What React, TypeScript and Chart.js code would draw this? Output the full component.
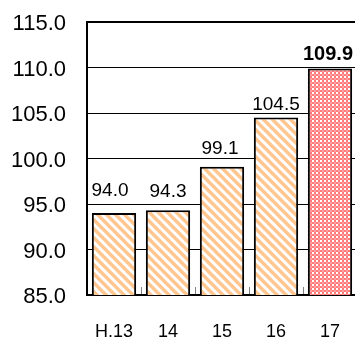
import React, { useEffect, useRef } from "react";
import { Chart, registerables } from "chart.js";

Chart.register(...registerables);

const categories = ["H.13", "14", "15", "16", "17"];
const values = [94.0, 94.3, 99.1, 104.5, 109.9];
const yTickValues = [85, 90, 95, 100, 105, 110, 115];

const FONT = '"Liberation Sans", Arial, sans-serif';

function makeStripe(): CanvasPattern | string {
  const n = 9;
  const c = document.createElement("canvas");
  c.width = n;
  c.height = n;
  const g = c.getContext("2d");
  if (!g) return "#FFCC99";
  g.fillStyle = "#ffffff";
  g.fillRect(0, 0, n, n);
  g.strokeStyle = "#FFC690";
  g.lineWidth = 3.4;
  for (const x of [-2 * n, -n, 0, n, 2 * n]) {
    g.beginPath();
    g.moveTo(x - 2, -2);
    g.lineTo(x + n + 2, n + 2);
    g.stroke();
  }
  return g.createPattern(c, "repeat") || "#FFCC99";
}

function makeChecker(): CanvasPattern | string {
  const c = document.createElement("canvas");
  c.width = 4;
  c.height = 4;
  const g = c.getContext("2d");
  if (!g) return "#FF9999";
  g.fillStyle = "#FF7A7A";
  g.fillRect(0, 0, 4, 4);
  g.fillStyle = "#ffffff";
  g.fillRect(0, 0, 2, 2);
  g.fillStyle = "#FFA0A0";
  g.fillRect(2, 2, 2, 2);
  return g.createPattern(c, "repeat") || "#FF9999";
}

const labelPlugin = {
  id: "valueLabels",
  afterDatasetsDraw(chart: any, _args: any, opts: any) {
    const meta = chart.getDatasetMeta(0);
    const ctx = chart.ctx;
    ctx.save();
    ctx.fillStyle = "#000";
    ctx.textAlign = "center";
    ctx.textBaseline = "alphabetic";
    meta.data.forEach((bar: any, i: number) => {
      const last = i === values.length - 1;
      ctx.font = `${last ? "bold 20px" : "19px"} ${FONT}`;
      const gap = opts.gaps[i] ?? 10;
      const dx = opts.dx[i] ?? 0;
      ctx.fillText(values[i].toFixed(1), bar.x + dx, bar.y - gap);
    });
    ctx.restore();
  },
};

export default function App() {
  const ref = useRef<HTMLCanvasElement | null>(null);

  useEffect(() => {
    if (!ref.current) return;
    const stripe = makeStripe();
    const checker = makeChecker();
    const chart = new Chart(ref.current, {
      type: "bar",
      data: {
        labels: categories,
        datasets: [
          {
            data: values,
            backgroundColor: values.map((_, i) => (i === values.length - 1 ? checker : stripe)) as any,
            borderColor: "#000",
            borderWidth: 2,
            borderSkipped: false,
            barPercentage: 0.82,
            categoryPercentage: 1,
          },
        ],
      },
      options: {
        responsive: false,
        animation: false,
        layout: { padding: { top: 22, left: 0, right: 0, bottom: 0 } },
        plugins: {
          legend: { display: false },
          tooltip: { enabled: false },
          valueLabels: { gaps: [17, 13, 13, 8, 8], dx: [-4, 0, -2, 0, -2] },
        } as any,
        scales: {
          x: {
            grid: {
              offset: true,
              drawOnChartArea: false,
              drawTicks: true,
              tickLength: -8,
              color: "#808080",
              lineWidth: 1,
            },
            border: { display: true, color: "#000", width: 2 },
            ticks: {
              color: "#000",
              padding: 0,
              font: { family: FONT, size: 18, lineHeight: 5 },
            },
            afterFit: (s: any) => {
              s.height = 43;
            },
          },
          y: {
            min: 85,
            max: 115,
            afterBuildTicks: (s: any) => {
              s.ticks = yTickValues.map((v) => ({ value: v }));
            },
            grid: {
              color: "#000",
              lineWidth: (c: any) => (c.tick && c.tick.value === 115 ? 2 : 1),
              drawTicks: true,
              tickLength: 21,
              tickColor: "rgba(0,0,0,0)",
            },
            border: { display: true, color: "#000", width: 2 },
            ticks: {
              color: "#000",
              padding: 0,
              labelOffset: 2,
              font: { family: FONT, size: 22 },
              callback: (v: any) => Number(v).toFixed(1),
            },
            afterFit: (s: any) => {
              s.width = 87;
            },
          },
        },
      },
      plugins: [labelPlugin],
    });
    return () => chart.destroy();
  }, []);

  return (
    <div
      style={{
        position: "fixed",
        left: 0,
        top: 0,
        width: 355,
        height: 338,
        overflow: "hidden",
        background: "#fff",
      }}
    >
      <canvas ref={ref} width={357} height={338} style={{ display: "block" }} />
    </div>
  );
}
